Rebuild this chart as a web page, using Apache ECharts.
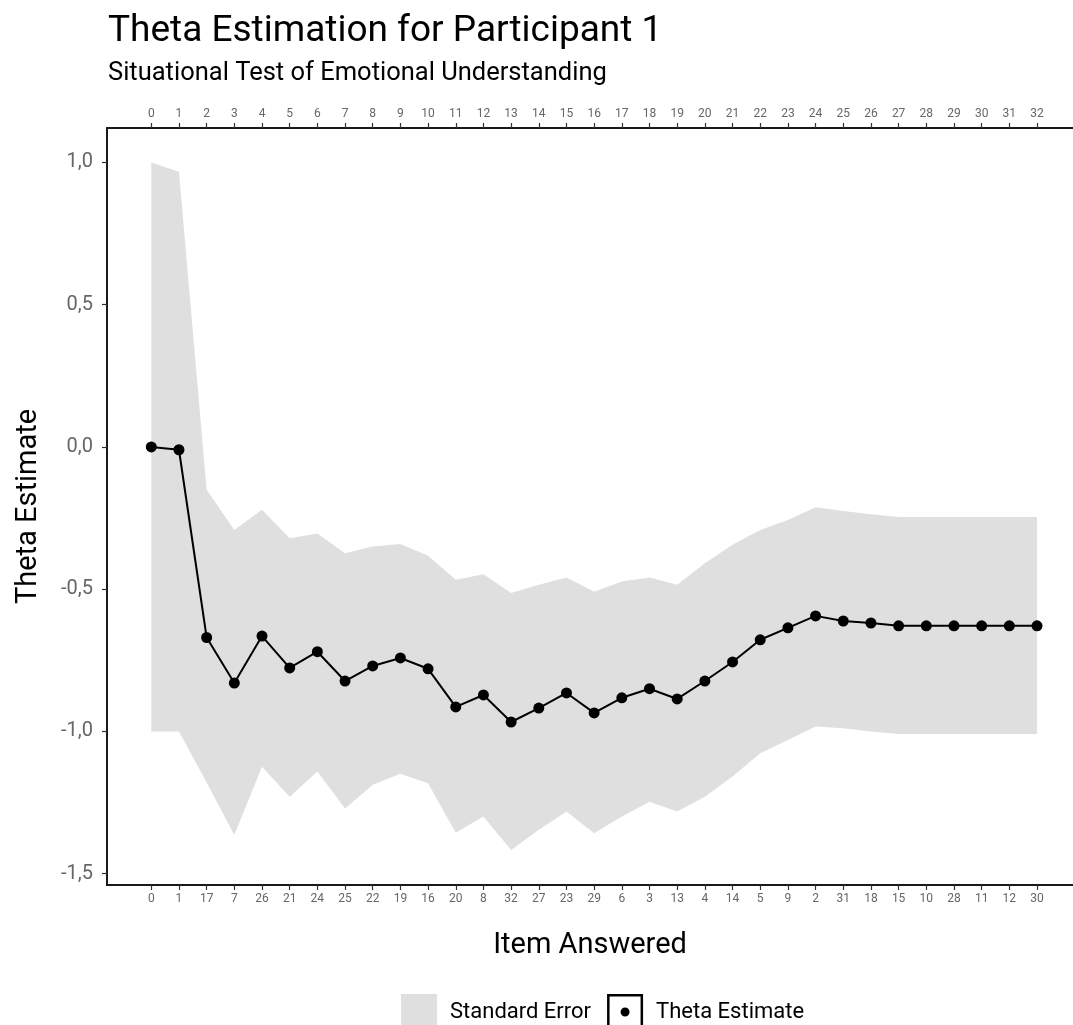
<!DOCTYPE html>
<html>
<head>
<meta charset="utf-8">
<script src="https://cdn.jsdelivr.net/npm/echarts@6/dist/echarts.min.js"></script>
<style>
html,body{margin:0;padding:0;background:#fff;}
#chart{width:1073px;height:1025px;}
</style>
</head>
<body>
<div id="chart"></div>
<script>
// Item answered at each step (bottom axis labels)
const itemsAnswered = [0,1,17,7,26,21,24,25,22,19,16,20,8,32,27,23,29,6,3,13,4,14,5,9,2,31,18,15,10,28,11,12,30];
// Step numbers (top axis labels)
const steps = [0,1,2,3,4,5,6,7,8,9,10,11,12,13,14,15,16,17,18,19,20,21,22,23,24,25,26,27,28,29,30,31,32];
// Theta estimate at each step
const theta = [0.00,-0.01,-0.67,-0.83,-0.665,-0.777,-0.72,-0.823,-0.77,-0.742,-0.78,-0.914,-0.872,-0.967,-0.918,-0.865,-0.935,-0.882,-0.85,-0.886,-0.823,-0.756,-0.678,-0.636,-0.594,-0.612,-0.619,-0.629,-0.629,-0.629,-0.629,-0.629,-0.629];
// Standard error band
const seUpper = [1.0,0.967,-0.151,-0.292,-0.221,-0.321,-0.304,-0.374,-0.35,-0.341,-0.383,-0.467,-0.448,-0.514,-0.485,-0.459,-0.509,-0.473,-0.459,-0.485,-0.409,-0.344,-0.292,-0.257,-0.212,-0.225,-0.237,-0.246,-0.246,-0.246,-0.246,-0.246,-0.246];
const seLower = [-1.0,-1.0,-1.18,-1.364,-1.124,-1.23,-1.141,-1.271,-1.188,-1.149,-1.182,-1.356,-1.299,-1.417,-1.346,-1.282,-1.358,-1.299,-1.247,-1.282,-1.23,-1.159,-1.077,-1.03,-0.983,-0.989,-1.0,-1.009,-1.009,-1.009,-1.009,-1.009,-1.009];
// Y tick values
const yTicks = [-1.5,-1.0,-0.5,0.0,0.5,1.0];

const FONT = 'Roboto';
const bandData = steps.map((s, i) => [s, seLower[i], seUpper[i]]);
const lineData = steps.map((s, i) => [s, theta[i]]);

const chart = echarts.init(document.getElementById('chart'), null, {renderer: 'canvas'});

const xCommon = {
  type: 'value',
  min: -1.6,
  max: 33.3,
  splitLine: {show: false},
  axisLine: {show: true, onZero: false, lineStyle: {color: '#1a1a1a', width: 2}},
  axisTick: {show: true, customValues: steps, length: 5, lineStyle: {color: '#333', width: 1.2}},
};

const option = {
  backgroundColor: '#fff',
  textStyle: {fontFamily: FONT},
  animation: false,
  title: {
    text: 'Theta Estimation for Participant 1',
    subtext: 'Situational Test of Emotional Understanding',
    left: 103,
    top: 8,
    itemGap: 11,
    textStyle: {fontFamily: FONT, fontSize: 37, fontWeight: 'normal', color: '#000'},
    subtextStyle: {fontFamily: FONT, fontSize: 25.5, color: '#000'}
  },
  grid: {left: 107, right: 0, top: 128, bottom: 140, containLabel: false},
  legend: {
    left: 396,
    top: 989,
    itemWidth: 36,
    itemHeight: 36,
    itemGap: 16,
    textStyle: {fontFamily: FONT, fontSize: 22, color: '#000', padding: [0, 0, 0, 8]},
    data: [
      {name: 'Standard Error', icon: 'rect', itemStyle: {color: '#dfdfdf'}},
      {name: 'Theta Estimate',
       icon: 'path://M0,0L36,0L36,36L0,36Z M2.5,2.5L2.5,33.5L33.5,33.5L33.5,2.5Z M18,13.5A4.5,4.5 0 1 0 18,22.5A4.5,4.5 0 1 0 18,13.5Z',
       itemStyle: {color: '#000'}}
    ]
  },
  xAxis: [
    Object.assign({}, xCommon, {
      position: 'bottom',
      name: 'Item Answered',
      nameLocation: 'middle',
      nameGap: 46,
      nameTextStyle: {fontFamily: FONT, fontSize: 29, color: '#000'},
      axisLabel: {
        customValues: steps,
        fontSize: 12, color: '#666', margin: 8,
        formatter: v => String(itemsAnswered[Math.round(v)])
      }
    }),
    Object.assign({}, xCommon, {
      position: 'top',
      axisLabel: {
        customValues: steps,
        fontSize: 12, color: '#666', margin: 8,
        formatter: v => String(steps[Math.round(v)])
      }
    })
  ],
  yAxis: {
    type: 'value',
    min: -1.54,
    max: 1.121,
    name: 'Theta Estimate',
    nameLocation: 'middle',
    nameGap: 64,
    nameTextStyle: {fontFamily: FONT, fontSize: 29, color: '#000'},
    splitLine: {show: false},
    axisLine: {show: true, onZero: false, lineStyle: {color: '#1a1a1a', width: 2}},
    axisTick: {show: true, customValues: yTicks, length: 5, lineStyle: {color: '#333', width: 1.2}},
    axisLabel: {
      customValues: yTicks,
      fontSize: 20, color: '#666', margin: 14,
      formatter: v => v.toFixed(1).replace('.', ',')
    }
  },
  series: [
    {
      name: 'Standard Error',
      type: 'custom',
      xAxisIndex: 0,
      itemStyle: {color: '#dfdfdf'},
      data: bandData,
      encode: {x: 0, y: [1, 2]},
      renderItem: function (params, api) {
        if (params.dataIndex !== 0) return null;
        const pts = [];
        for (let i = 0; i < bandData.length; i++) pts.push(api.coord([bandData[i][0], bandData[i][2]]));
        for (let i = bandData.length - 1; i >= 0; i--) pts.push(api.coord([bandData[i][0], bandData[i][1]]));
        return {
          type: 'polygon',
          shape: {points: pts},
          style: {fill: '#dfdfdf'}
        };
      },
      z: 1
    },
    {
      name: 'Theta Estimate',
      type: 'line',
      xAxisIndex: 0,
      data: lineData,
      symbol: 'circle',
      symbolSize: 11,
      itemStyle: {color: '#000'},
      lineStyle: {color: '#000', width: 2},
      z: 3
    }
  ]
};
chart.setOption(option);
</script>
</body>
</html>
